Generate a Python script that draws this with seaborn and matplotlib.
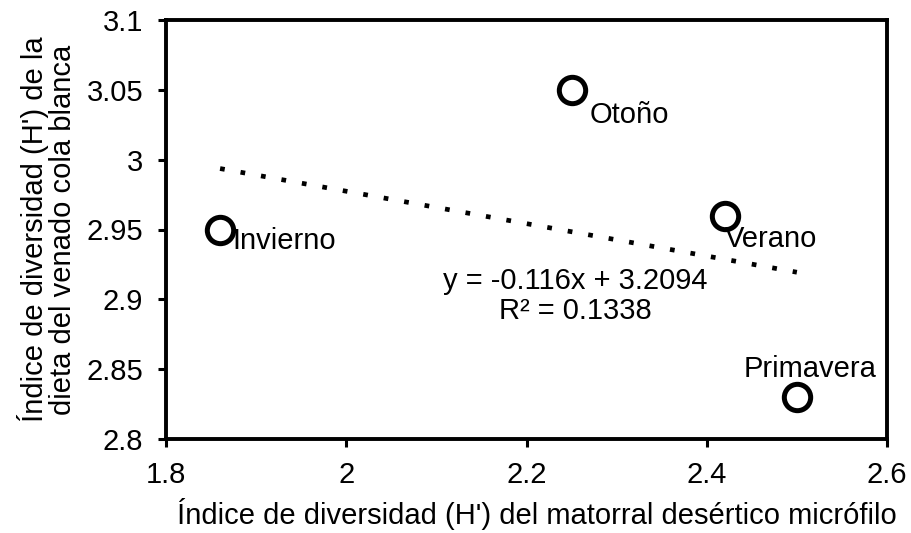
import matplotlib
matplotlib.use("Agg")
import matplotlib.pyplot as plt
import seaborn as sns
import numpy as np
import pandas as pd

seasons = ["Invierno", "Otoño", "Verano", "Primavera"]
x_vals = [1.86, 2.25, 2.42, 2.50]
y_vals = [2.95, 3.05, 2.96, 2.83]
slope = -0.116
intercept = 3.2094
r2 = 0.1338
x_ticks = [1.8, 2.0, 2.2, 2.4, 2.6]
x_tick_labels = ["1.8", "2", "2.2", "2.4", "2.6"]
y_ticks = [2.8, 2.85, 2.9, 2.95, 3.0, 3.05, 3.1]
y_tick_labels = ["2.8", "2.85", "2.9", "2.95", "3", "3.05", "3.1"]

sns.set_theme(style="white")
plt.rcParams['font.family'] = ['Liberation Sans', 'DejaVu Sans']
plt.rcParams['text.color'] = 'black'

FS = 21
df = pd.DataFrame({"x": x_vals, "y": y_vals, "season": seasons})

fig = plt.figure(figsize=(9.11, 5.33), dpi=100)
ax = fig.add_axes([166/911, 1-439/533, (887-166)/911, (439-20)/533])

# trendline
xl = np.array([min(x_vals), max(x_vals)])
ax.plot(xl, slope*xl + intercept, color="black", lw=3.4,
        linestyle=(0, (1, 3.4)), dash_capstyle="butt", zorder=2)

sns.scatterplot(data=df, x="x", y="y", ax=ax, s=360, facecolor="white",
                edgecolor="black", linewidth=3.6, zorder=3, legend=False)

offsets = {"Invierno": (8.5, -8, "left", "center"),
           "Otoño": (13, -18, "left", "center"),
           "Verano": (0, -17, "left", "center"),
           "Primavera": (9.5, 20, "center", "center")}
for s, xv, yv in zip(seasons, x_vals, y_vals):
    dx, dy, ha, va = offsets[s]
    ax.annotate(s, (xv, yv), xytext=(dx, dy), textcoords="offset points",
                ha=ha, va=va, fontsize=FS, color="black")

ax.text(2.2537, 2.9024, f"y = {slope}x + {intercept}\nR² = {r2}", ha="center", va="center",
        fontsize=FS, linespacing=1.05, color="black")

ax.set_xlim(1.8, 2.6)
ax.set_ylim(2.8, 3.1)
ax.set_xticks(x_ticks)
ax.set_xticklabels(x_tick_labels)
ax.set_yticks(y_ticks)
ax.set_yticklabels(y_tick_labels)
ax.tick_params(axis="both", direction="out", length=6, width=2.2, labelsize=FS,
               color="black", labelcolor="black", bottom=True, left=True)
ax.tick_params(axis="x", pad=9.5)
ax.tick_params(axis="y", pad=10.5)
for sp in ax.spines.values():
    sp.set_visible(True)
    sp.set_color("black")
    sp.set_linewidth(2.8)

ax.set_xlabel("Índice de diversidad (H') del matorral desértico micrófilo", fontsize=FS,
              color="black", labelpad=6.5, x=0.515)
ax.set_ylabel("Índice de diversidad (H') de la\ndieta del venado cola blanca", fontsize=FS,
              color="black", labelpad=6.5, linespacing=1.02)

fig.savefig("out.png", dpi=100)
